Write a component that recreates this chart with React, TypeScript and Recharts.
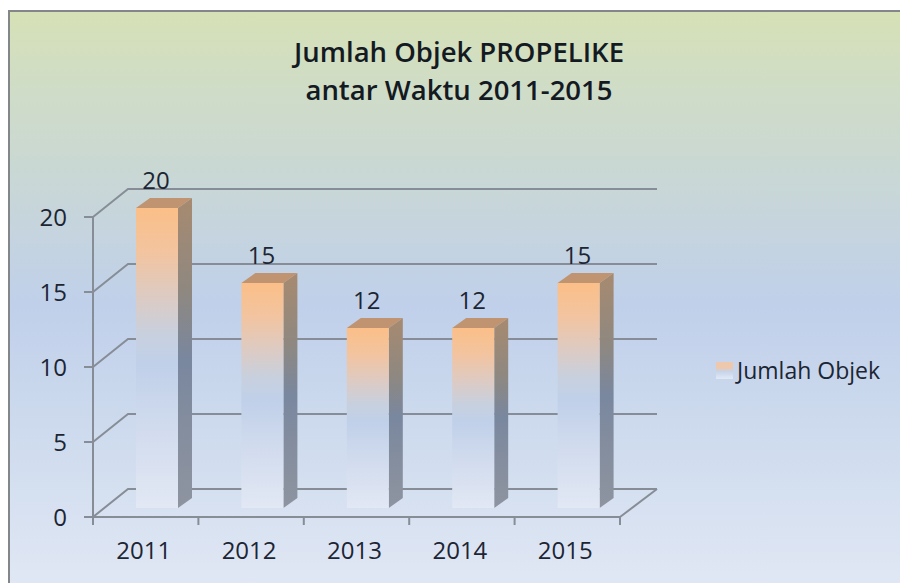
import React from "react";
import { BarChart, Bar, XAxis, YAxis, CartesianGrid, Legend, LabelList } from "recharts";

const categories = ["2011", "2012", "2013", "2014", "2015"];
const values = [20, 15, 12, 12, 15];
const yTicks = [0, 5, 10, 15, 20];
const seriesName = "Jumlah Objek";
const titleLines = ["Jumlah Objek PROPELIKE", "antar Waktu 2011-2015"];

const rows = categories.map((year, i) => ({ year, value: values[i] }));

const W = 900, H = 583;
const AXIS = "#868d96";
const INK = "#1c2533";
const FONT = "'Open Sans', 'Noto Sans', sans-serif";
const BAND = 527 / 5;
// 3D projection offsets
const WALL_DX = 35, WALL_DY = 28, WALL_RIGHT_DX = 37;
const BAR_DX = 11, BAR_DY = 9, SIDE_DX = 14, SIDE_DY = 10;

const Bar3D = (p: any) => {
  const x = p.x + BAR_DX, y = p.y - BAR_DY, w = p.width, h = p.height;
  return (
    <g>
      <polygon points={`${x},${y} ${x + SIDE_DX},${y - SIDE_DY} ${x + w + SIDE_DX},${y - SIDE_DY} ${x + w},${y}`} fill="#c09470" />
      <polygon points={`${x + w},${y} ${x + w + SIDE_DX},${y - SIDE_DY} ${x + w + SIDE_DX},${y + h - SIDE_DY} ${x + w},${y + h}`} fill="url(#side)" />
      <rect x={x} y={y} width={w} height={h} fill="url(#front)" />
    </g>
  );
};

const GridLine = (p: any) => {
  const { x1, x2, y1: y, index } = p;
  const isFloor = Math.abs(y - (H - 66)) < 1;
  return (
    <g key={index} fill="none" stroke={AXIS} strokeWidth={2}>
      <polyline points={`${x1},${y} ${x1 + WALL_DX},${y - WALL_DY} ${x2 + WALL_RIGHT_DX},${y - WALL_DY}`} />
      {isFloor && <line x1={x2 + WALL_RIGHT_DX} y1={y - WALL_DY} x2={x2} y2={y} />}
    </g>
  );
};

const XTick = (p: any) => {
  const { x, payload, index } = p;
  const top = H - 66;
  return (
    <g>
      <line x1={x - BAND / 2} x2={x - BAND / 2} y1={top} y2={top + 8} stroke={AXIS} strokeWidth={2} />
      {index === categories.length - 1 && (
        <line x1={x + BAND / 2} x2={x + BAND / 2} y1={top} y2={top + 8} stroke={AXIS} strokeWidth={2} />
      )}
      <text x={x - 2} y={top + 42} textAnchor="middle" fontSize={24} fontFamily={FONT} fill={INK}>{payload.value}</text>
    </g>
  );
};

const YTick = (p: any) => {
  const { y, payload } = p;
  return (
    <g>
      <line x1={84} x2={93} y1={y} y2={y} stroke={AXIS} strokeWidth={2} />
      <text x={67} y={y + 8.5} textAnchor="end" fontSize={24} fontFamily={FONT} fill={INK}>{payload.value}</text>
    </g>
  );
};

const BarLabel = (p: any) => (
  <text x={p.x + p.width / 2 + BAR_DX - 1} y={p.y - BAR_DY - 19} textAnchor="middle" fontSize={24} fontFamily={FONT} fill={INK}>
    {p.value}
  </text>
);

const LegendBox = () => (
  <div style={{ display: "flex", alignItems: "center", fontFamily: FONT, fontSize: 23, lineHeight: "28px", color: INK, whiteSpace: "nowrap" }}>
    <span style={{ width: 17, height: 17, marginRight: 4, background: "linear-gradient(#eec8ac 0%, #eec8ac 35%, #c5d4ea 55%, #e2e9f5 100%)" }} />
    {seriesName}
  </div>
);

export default function App() {
  return (
    <div style={{ position: "absolute", left: 0, top: 0, width: W, height: H, background: "#fff", overflow: "hidden" }}>
      <div style={{
        position: "absolute", left: 8, top: 10, width: 910, height: 590, boxSizing: "border-box",
        border: "2px solid #84878a",
        background: "linear-gradient(#d6e1b6 0%, #cfdcc8 14%, #c0d0ea 50%, #d2deef 78%, #e2e8f5 100%)",
      }} />
      <div style={{ position: "absolute", left: 0, top: 0 }}>
        <BarChart width={W} height={H} data={rows} barSize={42} margin={{ top: 217, right: 280, bottom: 26, left: 33 }}>
          <defs>
            <linearGradient id="front" x1="0" y1="0" x2="0" y2="1">
              <stop offset="0" stopColor="#fbbf88" />
              <stop offset="0.15" stopColor="#f2c4a0" />
              <stop offset="0.3" stopColor="#dccbc4" />
              <stop offset="0.42" stopColor="#c8d0de" />
              <stop offset="0.52" stopColor="#c0d0e9" />
              <stop offset="0.75" stopColor="#d2dcee" />
              <stop offset="1" stopColor="#e2e8f4" />
            </linearGradient>
            <linearGradient id="side" x1="0" y1="0" x2="0" y2="1">
              <stop offset="0" stopColor="#a78a70" />
              <stop offset="0.3" stopColor="#8f8880" />
              <stop offset="0.52" stopColor="#79879f" />
              <stop offset="0.72" stopColor="#838d9e" />
              <stop offset="1" stopColor="#8e94a0" />
            </linearGradient>
          </defs>
          <text textAnchor="middle" fontFamily={FONT} fontWeight={600} fontSize={27.5} fill="#141a22">
            <tspan x={459} y={62}>{titleLines[0]}</tspan>
            <tspan x={459} y={100}>{titleLines[1]}</tspan>
          </text>
          <CartesianGrid vertical={false} horizontal={GridLine as any} />
          <XAxis dataKey="year" height={40} axisLine={{ stroke: AXIS, strokeWidth: 2 }} tickLine={false} tick={XTick as any} interval={0} />
          <YAxis width={60} domain={[0, 20]} ticks={yTicks} axisLine={{ stroke: AXIS, strokeWidth: 2 }} tickLine={false} tick={YTick as any} />
          <Legend layout="horizontal" align="center" verticalAlign="middle" content={LegendBox as any} wrapperStyle={{ position: "absolute", left: 716, top: 356, width: "auto" }} />
          <Bar dataKey="value" name={seriesName} isAnimationActive={false} shape={Bar3D as any}>
            <LabelList dataKey="value" content={BarLabel as any} />
          </Bar>
        </BarChart>
      </div>
    </div>
  );
}
